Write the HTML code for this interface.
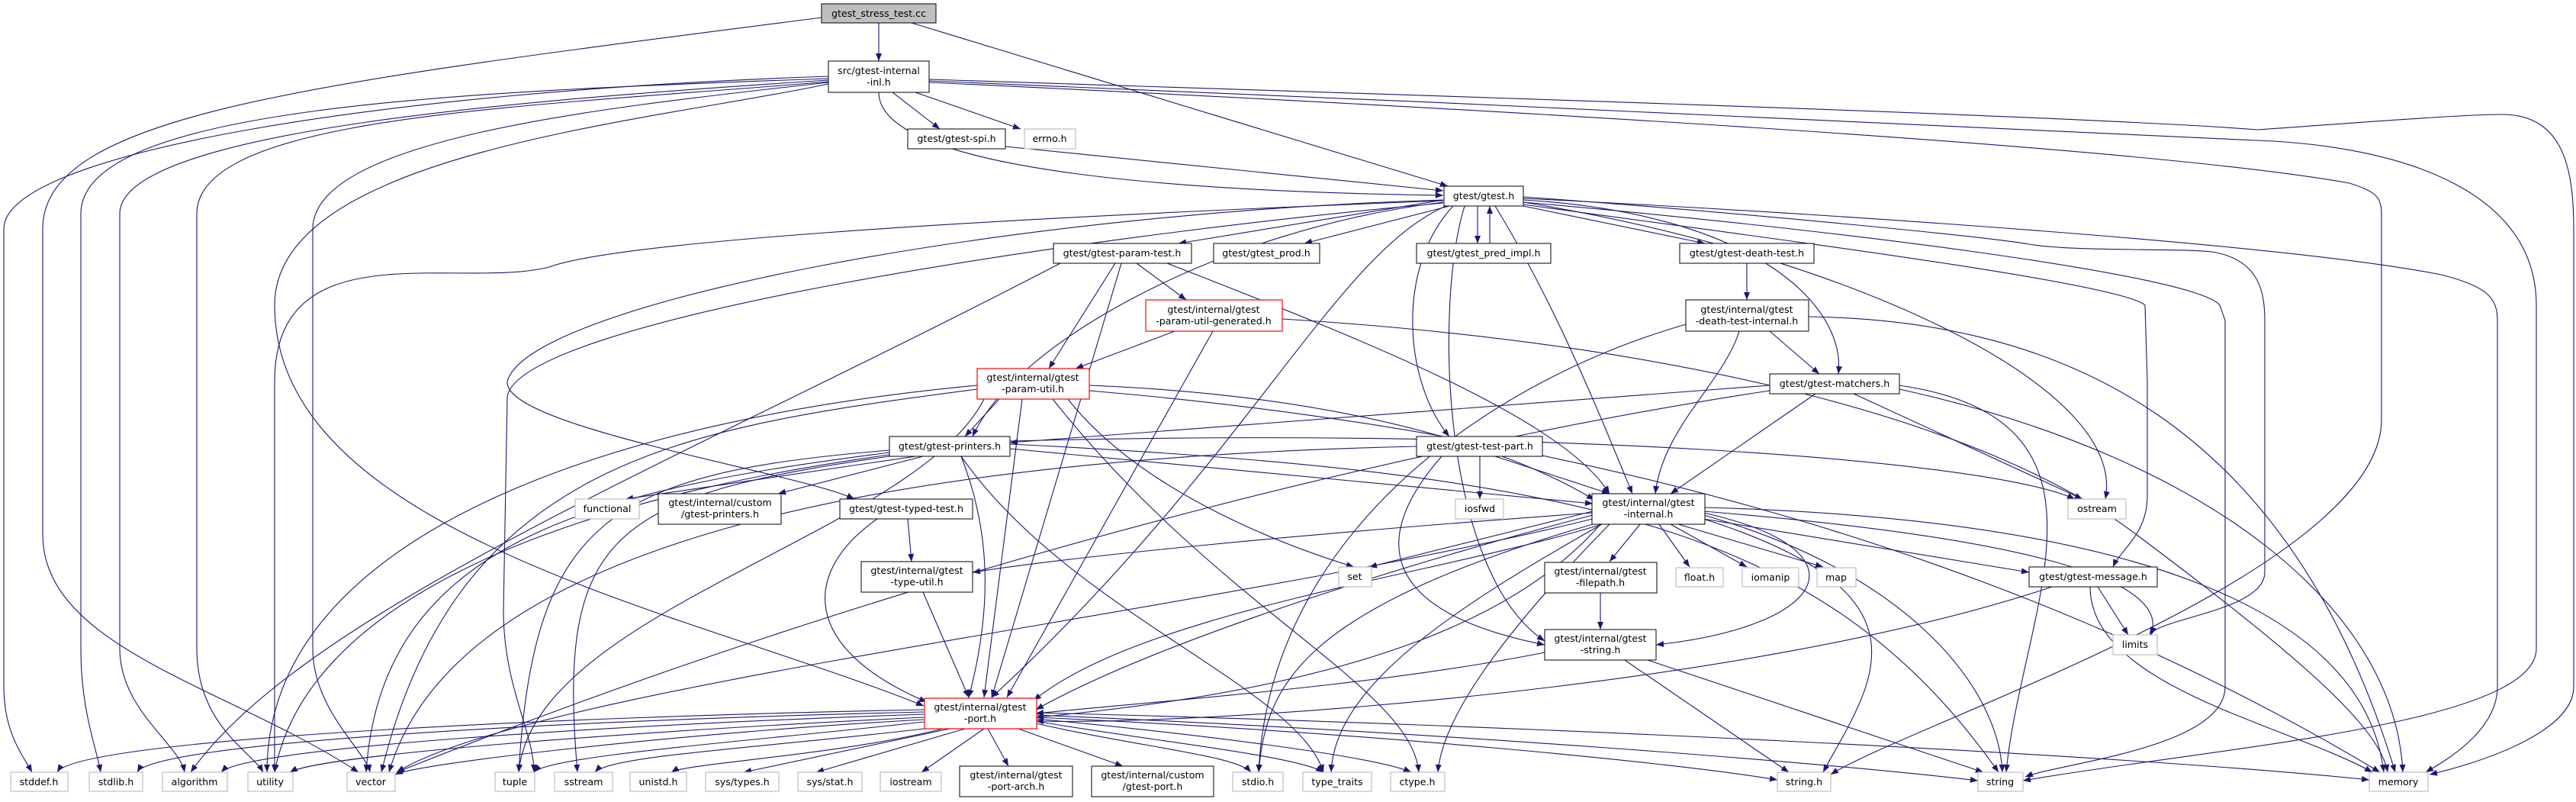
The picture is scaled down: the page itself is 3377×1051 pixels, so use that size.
<!DOCTYPE html>
<html><head><meta charset="utf-8"><style>
html,body{margin:0;padding:0;background:#fff}
svg{display:block}
text{font-family:"DejaVu Sans","Liberation Sans",sans-serif;font-size:12.6px;fill:#000;text-anchor:middle}
.e{fill:none;stroke:#191970;stroke-width:1.1}
.n{fill:#fff;stroke:#000;stroke-width:1}
.g{fill:#fff;stroke:#bfbfbf;stroke-width:1.2}
.r{fill:#fff;stroke:#ff0000;stroke-width:1.2}
</style></head><body>
<svg width="3377" height="1051" viewBox="0 0 3377 1051" xmlns="http://www.w3.org/2000/svg">
<defs><marker id="a" viewBox="0 0 10 8" refX="10" refY="4" markerWidth="11" markerHeight="8" markerUnits="userSpaceOnUse" orient="auto"><path d="M0,0 L10,4 L0,8z" fill="#191970"/></marker></defs>
<g class="e" marker-end="url(#a)">
<!-- root -->
<path d="M1152,30 L1152,80"/>
<path d="M1195,30 L1898,244"/>
<path d="M1077,23 C400,110 56,150 56,300 L56,700 C56,850 300,900 470,1012"/>
<!-- inl -->
<path d="M1086,100 C500,120 5,200 5,300 L5,900 C5,960 30,990 42,1012"/>
<path d="M1086,103 C600,120 106,140 106,280 L106,850 C106,930 125,975 132,1012"/>
<path d="M1086,105 C700,130 157,170 157,280 L157,850 C157,930 235,975 242,1012"/>
<path d="M1086,107 C700,140 258,150 258,280 L258,850 C258,950 330,985 345,1012"/>
<path d="M1086,108 C800,140 410,180 410,300 L410,850 C410,930 480,985 485,1012"/>
<path d="M1086,110 C850,160 360,200 360,400 C360,700 900,800 1211,925"/>
<path d="M1170,121 L1232,169"/>
<path d="M1200,121 L1338,169"/>
<path d="M1152,121 C1152,230 1600,252 1892,256"/>
<path d="M1218,104 C1700,120 2700,150 2960,170 C3100,160 3230,150 3280,150 C3360,150 3374,220 3374,300 L3374,900 C3374,960 3250,1000 3185,1015"/>
<path d="M1218,106 C1800,130 2700,170 2980,185 C3150,195 3325,250 3325,400 L3325,850 C3325,950 2900,980 2652,1023"/>
<path d="M1218,108 C1900,140 2800,190 3080,240 C3110,250 3122,255 3122,280 L3122,550 C3122,750 2500,950 2400,1015"/>
<path d="M1318,192 L1892,250"/>
<!-- gtest.h -->
<path d="M1892,262 L1545,319"/>
<path d="M1900,270 L1710,319"/>
<path d="M1937,270 L1937,319"/>
<path d="M1953,319 L1953,270"/>
<path d="M1997,270 L2235,319"/>
<path d="M1905,270 C1830,350 1840,500 1900,572"/>
<path d="M1960,270 C2040,400 2100,550 2140,647"/>
<path d="M1997,262 C2300,280 2420,400 2410,490"/>
<path d="M1892,265 C1600,300 1330,450 1275,572"/>
<path d="M1892,262 C1300,280 690,400 665,500 C660,560 1050,620 1120,654"/>
<path d="M1892,263 C1200,290 800,320 720,350 C600,380 360,300 360,500 L360,1012"/>
<path d="M1892,266 C1400,310 680,420 665,520 L660,800 C660,900 700,960 700,1012"/>
<path d="M1900,268 C1750,330 1640,600 1300,914"/>
<path d="M1920,270 C1880,400 1890,750 2025,840"/>
<path d="M1997,265 C2400,330 2790,500 2760,654"/>
<path d="M1997,258 C2300,280 2600,310 2660,320 C2720,330 2850,325 2900,330 C2960,340 2969,380 2969,420 L2969,750 C2969,800 2830,810 2818,832"/>
<path d="M1997,260 C2400,280 3000,320 3200,360 C3260,375 3274,390 3274,420 L3274,900 C3274,960 3200,1000 3180,1012"/>
<path d="M1997,265 C2400,300 2880,360 2910,400 L2917,420 L2917,900 C2917,980 2700,1000 2655,1018"/>
<path d="M1997,268 C2300,310 2780,370 2812,400 L2815,500 L2815,650 C2815,700 2780,720 2770,743"/>
<!-- param-test -->
<path d="M1490,345 L1555,393"/>
<path d="M1462,345 L1375,483"/>
<path d="M1470,345 L1300,914"/>
<path d="M1530,345 C1800,450 2050,550 2110,647"/>
<path d="M1390,345 C900,600 400,800 250,1012"/>
<!-- PUG -->
<path d="M1540,434 L1410,483"/>
<path d="M1590,434 L1320,914"/>
<path d="M1681,418 C2200,450 2600,550 2800,700 C3000,850 3120,950 3130,1012"/>
<!-- death test -->
<path d="M2290,345 L2290,393"/>
<path d="M2320,434 L2385,490"/>
<path d="M2280,434 C2260,500 2180,560 2170,647"/>
<path d="M2210,425 C1950,500 1665,700 1650,1012"/>
<path d="M2371,415 C2700,420 3000,550 3140,1012"/>
<!-- matchers -->
<path d="M2320,505 L1324,580"/>
<path d="M2380,516 L2190,647"/>
<path d="M2430,516 L2730,654"/>
<path d="M2490,505 C2800,550 2650,800 2630,1012"/>
<path d="M2490,510 C2900,600 3140,800 3150,1012"/>
<path d="M2320,512 C2000,560 1300,700 520,1012"/>
<!-- param-util -->
<path d="M1310,523 L1265,572"/>
<path d="M1428,505 C1800,520 2000,600 2090,655"/>
<path d="M1400,523 C1500,650 1700,720 1775,743"/>
<path d="M1290,523 C1200,700 700,800 680,1012"/>
<path d="M1281,510 C900,560 600,600 500,1012"/>
<path d="M1281,505 C800,550 350,700 350,1012"/>
<path d="M1340,523 L1290,914"/>
<path d="M1380,523 C1600,800 1850,900 1860,1012"/>
<path d="M1428,512 C2000,560 2600,700 3120,1012"/>
<!-- printers -->
<path d="M1200,598 L820,654"/>
<path d="M1210,598 L1020,647"/>
<path d="M1324,588 L2088,660"/>
<path d="M1324,578 C2000,560 2600,600 2720,654"/>
<path d="M1324,582 C2100,620 2400,700 2620,1012"/>
<path d="M1260,598 C1300,700 1300,800 1270,914"/>
<path d="M1166,590 C800,620 700,680 680,1012"/>
<path d="M1166,593 C800,640 500,700 480,1012"/>
<path d="M1166,596 C700,660 400,800 360,1012"/>
<path d="M1166,598 C800,650 730,700 757,1012"/>
<path d="M1260,598 C1400,800 1700,900 1735,1012"/>
<!-- typed test -->
<path d="M1190,680 L1195,736"/>
<path d="M1150,680 C1050,750 1050,850 1215,920"/>
<path d="M1210,776 L1270,914"/>
<!-- test part -->
<path d="M1940,598 L1940,654"/>
<path d="M1960,598 L2110,647"/>
<path d="M1890,598 C1800,700 1800,800 2025,845"/>
<path d="M1857,585 C1200,600 600,700 510,1012"/>
<!-- internal -->
<path d="M2088,670 L1795,743"/>
<path d="M2150,687 L2110,736"/>
<path d="M2175,687 L2215,743"/>
<path d="M2190,687 L2290,743"/>
<path d="M2200,687 L2390,743"/>
<path d="M2233,680 L2660,750"/>
<path d="M2233,670 C2600,700 2850,750 2820,832"/>
<path d="M2233,672 C2450,720 2400,820 2171,845"/>
<path d="M2088,675 C1800,750 1500,850 1358,930"/>
<path d="M2088,672 C1700,700 1400,730 1275,750"/>
<path d="M2088,680 C1600,800 700,900 520,1012"/>
<path d="M2100,687 C1900,800 1750,900 1745,1012"/>
<path d="M2110,687 C1950,850 1890,950 1885,1012"/>
<path d="M2233,680 C2550,780 2450,900 2390,1012"/>
<path d="M2233,675 C2500,750 2620,900 2625,1012"/>
<path d="M2233,665 C2800,680 3100,800 3125,1012"/>
<path d="M2088,687 C1700,800 1660,900 1650,1012"/>
<path d="M2098,687 C2000,800 1800,900 1358,940"/>
<path d="M2100,687 C1900,750 1500,800 1355,918"/>
<!-- filepath / message / string -->
<path d="M2098,777 L2098,825"/>
<path d="M2750,769 L2790,832"/>
<path d="M2740,769 C2740,900 3000,950 3110,1012"/>
<path d="M2690,769 C2300,900 1600,950 1358,945"/>
<path d="M2025,855 C1800,900 1500,920 1358,935"/>
<path d="M2130,865 L2345,1012"/>
<path d="M2160,865 L2600,1012"/>
<!-- port -->
<path d="M1211,930 C700,940 100,970 75,1012"/>
<path d="M1211,933 C700,945 200,975 180,1012"/>
<path d="M1211,936 C800,950 320,980 290,1012"/>
<path d="M1211,940 C800,960 420,990 380,1012"/>
<path d="M1211,943 C900,960 550,1000 518,1015"/>
<path d="M1211,946 C1000,970 720,990 700,1012"/>
<path d="M1220,954 C1000,980 800,990 780,1012"/>
<path d="M1240,954 C1100,990 900,1000 880,1012"/>
<path d="M1245,955 L975,1012"/>
<path d="M1265,955 L1070,1012"/>
<path d="M1290,955 L1208,1012"/>
<path d="M1295,955 L1322,1004"/>
<path d="M1335,955 L1472,1004"/>
<path d="M1358,948 C1500,980 1620,990 1640,1012"/>
<path d="M1358,945 C1500,970 1700,990 1735,1012"/>
<path d="M1358,942 C1550,960 1800,990 1850,1012"/>
<path d="M1358,940 C1800,960 2200,1000 2330,1022"/>
<path d="M1358,937 C1900,960 2400,1000 2593,1023"/>
<path d="M1358,934 C2000,950 2800,990 3106,1022"/>
</g>
<!-- nodes -->
<rect x="1077" y="5" width="150" height="25" fill="#bfbfbf" stroke="#000"/><text x="1152" y="22">gtest_stress_test.cc</text>
<rect class="n" x="1086" y="80" width="132" height="41"/><text x="1152" y="97">src/gtest-internal</text><text x="1152" y="112">-inl.h</text>
<rect class="n" x="1190" y="169" width="128" height="26"/><text x="1254" y="186">gtest/gtest-spi.h</text>
<rect class="g" x="1343" y="169" width="67" height="26"/><text x="1376" y="186">errno.h</text>
<rect class="n" x="1893" y="244" width="104" height="26"/><text x="1945" y="261">gtest/gtest.h</text>
<rect class="n" x="1381" y="319" width="181" height="26"/><text x="1471" y="336">gtest/gtest-param-test.h</text>
<rect class="n" x="1591" y="319" width="139" height="26"/><text x="1660" y="336">gtest/gtest_prod.h</text>
<rect class="n" x="1857" y="319" width="176" height="26"/><text x="1945" y="336">gtest/gtest_pred_impl.h</text>
<rect class="n" x="2202" y="319" width="176" height="26"/><text x="2290" y="336">gtest/gtest-death-test.h</text>
<rect class="r" x="1502" y="393" width="179" height="41"/><text x="1591" y="410">gtest/internal/gtest</text><text x="1591" y="425">-param-util-generated.h</text>
<rect class="n" x="2210" y="393" width="161" height="41"/><text x="2290" y="410">gtest/internal/gtest</text><text x="2290" y="425">-death-test-internal.h</text>
<rect class="r" x="1281" y="483" width="147" height="40"/><text x="1354" y="499">gtest/internal/gtest</text><text x="1354" y="514">-param-util.h</text>
<rect class="n" x="2320" y="490" width="170" height="26"/><text x="2405" y="507">gtest/gtest-matchers.h</text>
<rect class="n" x="1166" y="572" width="158" height="26"/><text x="1245" y="589">gtest/gtest-printers.h</text>
<rect class="n" x="1857" y="572" width="165" height="26"/><text x="1940" y="589">gtest/gtest-test-part.h</text>
<rect class="g" x="754" y="654" width="84" height="26"/><text x="796" y="671">functional</text>
<rect class="n" x="863" y="647" width="161" height="40"/><text x="944" y="663">gtest/internal/custom</text><text x="944" y="678">/gtest-printers.h</text>
<rect class="n" x="1101" y="654" width="174" height="26"/><text x="1188" y="671">gtest/gtest-typed-test.h</text>
<rect class="g" x="1908" y="654" width="63" height="26"/><text x="1940" y="671">iosfwd</text>
<rect class="n" x="2087" y="647" width="148" height="40"/><text x="2161" y="663">gtest/internal/gtest</text><text x="2161" y="678">-internal.h</text>
<rect class="g" x="2711" y="654" width="76" height="26"/><text x="2749" y="671">ostream</text>
<rect class="n" x="1129" y="736" width="146" height="40"/><text x="1202" y="752">gtest/internal/gtest</text><text x="1202" y="767">-type-util.h</text>
<rect class="g" x="1755" y="743" width="43" height="26"/><text x="1776" y="760">set</text>
<rect class="n" x="2025" y="737" width="147" height="40"/><text x="2098" y="753">gtest/internal/gtest</text><text x="2098" y="768">-filepath.h</text>
<rect class="g" x="2197" y="744" width="62" height="25"/><text x="2228" y="761">float.h</text>
<rect class="g" x="2284" y="744" width="74" height="25"/><text x="2321" y="761">iomanip</text>
<rect class="g" x="2382" y="744" width="51" height="25"/><text x="2407" y="761">map</text>
<rect class="n" x="2660" y="743" width="168" height="26"/><text x="2744" y="760">gtest/gtest-message.h</text>
<rect class="g" x="2770" y="832" width="58" height="26"/><text x="2799" y="849">limits</text>
<rect class="n" x="2025" y="825" width="146" height="40"/><text x="2098" y="841">gtest/internal/gtest</text><text x="2098" y="856">-string.h</text>
<rect class="r" x="1212" y="915" width="147" height="40"/><text x="1285" y="931">gtest/internal/gtest</text><text x="1285" y="946">-port.h</text>
<rect class="g" x="14" y="1012" width="75" height="25"/><text x="51" y="1029">stddef.h</text>
<rect class="g" x="117" y="1012" width="70" height="25"/><text x="152" y="1029">stdlib.h</text>
<rect class="g" x="213" y="1012" width="85" height="25"/><text x="255" y="1029">algorithm</text>
<rect class="g" x="325" y="1012" width="59" height="25"/><text x="354" y="1029">utility</text>
<rect class="g" x="455" y="1012" width="63" height="25"/><text x="486" y="1029">vector</text>
<rect class="g" x="649" y="1012" width="52" height="25"/><text x="675" y="1029">tuple</text>
<rect class="g" x="727" y="1012" width="76" height="25"/><text x="765" y="1029">sstream</text>
<rect class="g" x="826" y="1012" width="74" height="25"/><text x="863" y="1029">unistd.h</text>
<rect class="g" x="925" y="1012" width="96" height="25"/><text x="973" y="1029">sys/types.h</text>
<rect class="g" x="1046" y="1012" width="84" height="25"/><text x="1088" y="1029">sys/stat.h</text>
<rect class="g" x="1154" y="1012" width="80" height="25"/><text x="1194" y="1029">iostream</text>
<rect class="n" x="1258" y="1004" width="148" height="40"/><text x="1332" y="1020">gtest/internal/gtest</text><text x="1332" y="1035">-port-arch.h</text>
<rect class="n" x="1431" y="1004" width="160" height="40"/><text x="1511" y="1020">gtest/internal/custom</text><text x="1511" y="1035">/gtest-port.h</text>
<rect class="g" x="1616" y="1012" width="66" height="25"/><text x="1649" y="1029">stdio.h</text>
<rect class="g" x="1708" y="1012" width="90" height="25"/><text x="1753" y="1029">type_traits</text>
<rect class="g" x="1823" y="1012" width="71" height="25"/><text x="1858" y="1029">ctype.h</text>
<rect class="g" x="2330" y="1012" width="70" height="25"/><text x="2365" y="1029">string.h</text>
<rect class="g" x="2593" y="1012" width="59" height="25"/><text x="2622" y="1029">string</text>
<rect class="g" x="3106" y="1012" width="77" height="25"/><text x="3144" y="1029">memory</text>
</svg>
</body></html>
